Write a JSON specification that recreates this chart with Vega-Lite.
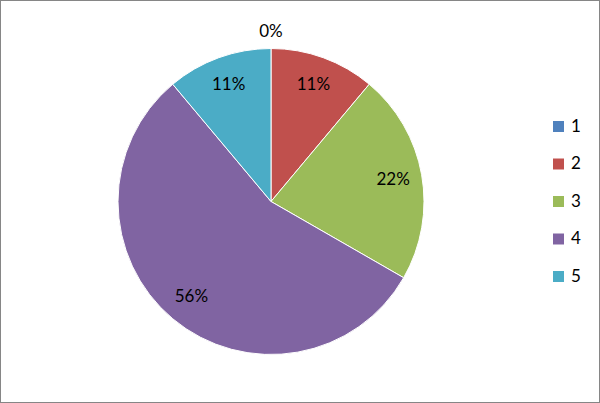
{
  "$schema": "https://vega.github.io/schema/vega-lite/v6.json",
  "width": 600,
  "height": 403,
  "autosize": "none",
  "padding": 0,
  "background": "white",
  "view": {"stroke": "#868686", "strokeWidth": 2, "fill": "white"},
  "config": {
    "font": "Lato"
  },
  "data": {
    "values": [
      {"category": "1", "share": 0},
      {"category": "2", "share": 0.111},
      {"category": "3", "share": 0.222},
      {"category": "4", "share": 0.556},
      {"category": "5", "share": 0.111}
    ]
  },
  "encoding": {
    "theta": {"field": "share", "type": "quantitative", "stack": true, "scale": {"domain": [0, 1]}},
    "order": {"field": "category", "type": "ordinal"}
  },
  "layer": [
    {
      "mark": {"type": "arc", "outerRadius": 153, "xOffset": -29, "stroke": "white", "strokeWidth": 1},
      "encoding": {
        "color": {
          "field": "category",
          "type": "nominal",
          "scale": {"domain": ["1", "2", "3", "4", "5"], "range": ["#4F81BD", "#C0504D", "#9BBB59", "#8064A2", "#4BACC6"]},
          "legend": {
            "title": null,
            "orient": "none",
            "legendX": 550,
            "legendY": 118,
            "symbolType": "square",
            "symbolSize": 121,
            "symbolStrokeWidth": 0,
            "labelFontSize": 17,
            "labelColor": "black",
            "labelFont": "Lato",
            "labelOffset": 4,
            "rowPadding": 19.5
          }
        }
      }
    },
    {
      "transform": [{"filter": "datum.share > 0"}],
      "mark": {"type": "text", "radius": 124, "xOffset": -29, "fontSize": 17, "color": "black", "font": "Lato"},
      "encoding": {
        "text": {"field": "share", "type": "quantitative", "format": ".0%"}
      }
    },
    {
      "transform": [{"filter": "datum.share == 0"}],
      "mark": {"type": "text", "radius": 170, "xOffset": -29, "fontSize": 17, "color": "black", "font": "Lato"},
      "encoding": {
        "text": {"field": "share", "type": "quantitative", "format": ".0%"}
      }
    }
  ]
}
